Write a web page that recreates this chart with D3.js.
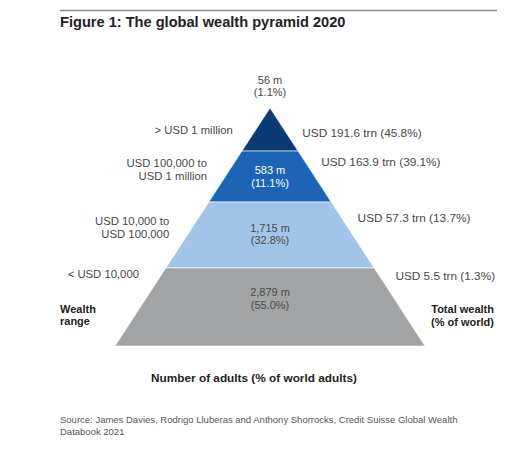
<!DOCTYPE html>
<html>
<head>
<meta charset="utf-8">
<script src="https://cdn.jsdelivr.net/npm/d3@7"></script>
<style>
  body { margin: 0; background: #fff; }
  svg { font-family: "Liberation Sans", Arial, sans-serif; }
</style>
</head>
<body>
<div id="chart"></div>
<script>
// Datos del gráfico (de la cima a la base)
const wealthRanges = [["> USD 1 million"], ["USD 100,000 to", "USD 1 million"], ["USD 10,000 to", "USD 100,000"], ["< USD 10,000"]];
const adults = ["56 m", "583 m", "1,715 m", "2,879 m"];
const adultsShare = ["1.1%", "11.1%", "32.8%", "55.0%"];
const totalWealth = ["USD 191.6 trn", "USD 163.9 trn", "USD 57.3 trn", "USD 5.5 trn"];
const wealthShare = ["45.8%", "39.1%", "13.7%", "1.3%"];

// Diseño de la pirámide (fracciones de altura)
const tierBreaks = [0, 0.181, 0.395, 0.672, 1];
const leftLabelAt = [0.092, 0.258, 0.502, 0.697];
const rightLabelAt = [0.105, 0.227, 0.462, 0.706];
const centerLabelAt = [null, 0.288, 0.53, 0.80];
const colors = ["#0c3a74", "#1c65b6", "#a3c4e9", "#a1a3a4"];
const centerColors = ["#444", "#fff", "#4a4a4a", "#4a4a4a"];

const width = 511, height = 461;
const svg = d3.select("#chart").append("svg")
    .attr("width", width)
    .attr("height", height);

// Título y regla superior
svg.append("line")
    .attr("x1", 60).attr("x2", 497)
    .attr("y1", 10.5).attr("y2", 10.5)
    .attr("stroke", "#8a8a8a").attr("stroke-width", 1.5);
svg.append("text")
    .attr("x", 60).attr("y", 27)
    .attr("font-size", 14.6).attr("font-weight", "bold").attr("fill", "#222")
    .text("Figure 1: The global wealth pyramid 2020");

// Escalas
const apexX = 270;
const y = d3.scaleLinear().domain([0, 1]).range([108, 346]);
const halfW = d3.scaleLinear().domain([0, 1]).range([0, 155]);

const tiers = adults.map((a, i) => ({
    i, t0: tierBreaks[i], t1: tierBreaks[i + 1]
}));

// Capas de la pirámide
svg.append("g")
    .selectAll("path")
    .data(tiers)
    .enter().append("path")
    .attr("d", d => {
        const pts = [
            [apexX - halfW(d.t0), y(d.t0)],
            [apexX + halfW(d.t0), y(d.t0)],
            [apexX + halfW(d.t1), y(d.t1)],
            [apexX - halfW(d.t1), y(d.t1)]
        ];
        return "M" + pts.join("L") + "Z";
    })
    .attr("fill", d => colors[d.i])
    .attr("stroke", "#fff")
    .attr("stroke-width", 0.6);

const lineH = 12.5;

function multiline(g, lines, x, cy, anchor, fill, size, weight) {
    const txt = g.append("text")
        .attr("text-anchor", anchor)
        .attr("font-size", size)
        .attr("font-weight", weight || "normal")
        .attr("fill", fill);
    const y0 = cy - (lines.length - 1) * lineH / 2 + 4;
    lines.forEach((l, k) => {
        txt.append("tspan").attr("x", x).attr("y", y0 + k * lineH).text(l);
    });
    return txt;
}

const labels = svg.append("g");

// Rangos de riqueza (izquierda)
tiers.forEach(d => {
    const t = leftLabelAt[d.i];
    multiline(labels, wealthRanges[d.i], apexX - halfW(t) - 23, y(t), "end", "#474747", 11.3);
});

// Riqueza total (derecha)
tiers.forEach(d => {
    const t = rightLabelAt[d.i];
    multiline(labels, [totalWealth[d.i] + " (" + wealthShare[d.i] + ")"], apexX + halfW(t) + 16, y(t), "start", "#474747", 11.8);
});

// Número de adultos (centro)
tiers.forEach(d => {
    const cy = d.i === 0 ? y(0) - 22 : y(centerLabelAt[d.i]);
    multiline(labels, [adults[d.i], "(" + adultsShare[d.i] + ")"], apexX, cy, "middle", centerColors[d.i], 11);
});

// Títulos de los ejes
multiline(labels, ["Wealth", "range"], 60, 315, "start", "#222", 11, "bold");
multiline(labels, ["Total wealth", "(% of world)"], 494, 315.5, "end", "#222", 11, "bold");

svg.append("text")
    .attr("x", 254).attr("y", 382)
    .attr("text-anchor", "middle")
    .attr("font-size", 11.8).attr("font-weight", "bold").attr("fill", "#222")
    .text("Number of adults (% of world adults)");

// Fuente
multiline(svg, ["Source: James Davies, Rodrigo Lluberas and Anthony Shorrocks, Credit Suisse Global Wealth", "Databook 2021"], 60, 425, "start", "#555", 9.5);
</script>
</body>
</html>
